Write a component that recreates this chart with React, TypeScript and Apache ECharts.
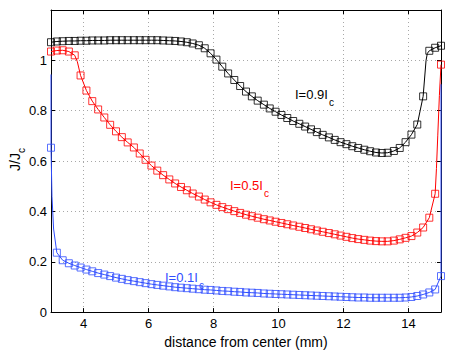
import React, { useEffect, useRef } from "react";
import * as echarts from "echarts";

// distance from center (mm) of the sampled points (markers)
const xGrid = [
  3.0, 3.18, 3.36, 3.55, 3.73, 3.91, 4.09, 4.27, 4.45, 4.64,
  4.82, 5.0, 5.18, 5.36, 5.55, 5.73, 5.91, 6.09, 6.27, 6.45,
  6.64, 6.82, 7.0, 7.18, 7.36, 7.55, 7.73, 7.91, 8.09, 8.27,
  8.45, 8.64, 8.82, 9.0, 9.18, 9.36, 9.55, 9.73, 9.91, 10.09,
  10.27, 10.45, 10.64, 10.82, 11.0, 11.18, 11.36, 11.55, 11.73, 11.91,
  12.09, 12.27, 12.45, 12.64, 12.82, 13.0, 13.18, 13.36, 13.55, 13.73,
  13.91, 14.09, 14.27, 14.45, 14.64, 14.82, 15.0,
];

// J/Jc for I = 0.9 Ic
const jHigh = [
  1.072, 1.075, 1.076, 1.077, 1.077, 1.078, 1.078, 1.079, 1.079, 1.079,
  1.08, 1.08, 1.08, 1.08, 1.08, 1.08, 1.08, 1.08, 1.08, 1.079,
  1.078, 1.077, 1.075, 1.072, 1.067, 1.06, 1.048, 1.028, 1.003, 0.975,
  0.948, 0.922, 0.898, 0.876, 0.857, 0.84, 0.824, 0.809, 0.796, 0.783,
  0.771, 0.759, 0.748, 0.737, 0.726, 0.715, 0.704, 0.694, 0.684, 0.675,
  0.667, 0.659, 0.652, 0.645, 0.639, 0.634, 0.632, 0.633, 0.64, 0.652,
  0.675, 0.705, 0.745, 0.857, 1.038, 1.05, 1.058,
];

// J/Jc for I = 0.5 Ic
const jMid = [
  1.035, 1.039, 1.04, 1.035, 1.02, 0.94, 0.88, 0.838, 0.805, 0.773,
  0.744, 0.718, 0.695, 0.674, 0.654, 0.63, 0.605, 0.582, 0.562, 0.544,
  0.527, 0.511, 0.497, 0.484, 0.471, 0.459, 0.447, 0.436, 0.426, 0.417,
  0.409, 0.401, 0.394, 0.387, 0.381, 0.375, 0.369, 0.364, 0.359, 0.354,
  0.349, 0.344, 0.339, 0.334, 0.329, 0.324, 0.319, 0.314, 0.309, 0.304,
  0.299, 0.294, 0.29, 0.287, 0.284, 0.282, 0.281, 0.281, 0.284, 0.289,
  0.295, 0.302, 0.316, 0.336, 0.375, 0.47, 0.983,
];

// J/Jc for I = 0.1 Ic
const jLow = [
  0.653, 0.236, 0.206, 0.194, 0.185, 0.177, 0.169, 0.162, 0.155, 0.149,
  0.143, 0.137, 0.132, 0.127, 0.123, 0.119, 0.115, 0.111, 0.108, 0.105,
  0.102, 0.099, 0.097, 0.095, 0.093, 0.091, 0.089, 0.088, 0.086, 0.084,
  0.083, 0.081, 0.08, 0.078, 0.077, 0.076, 0.074, 0.073, 0.072, 0.071,
  0.07, 0.069, 0.068, 0.067, 0.066, 0.065, 0.064, 0.063, 0.062, 0.061,
  0.06, 0.059, 0.058, 0.058, 0.057, 0.057, 0.057, 0.057, 0.057, 0.057,
  0.058, 0.06, 0.064, 0.07, 0.078, 0.09, 0.143,
];

// extra points of the fine solid curves (between markers, near the edges)
const highCurveExtra = [[14.54, 1.0], [14.58, 1.028]];
const midCurveExtra = [[3.81, 0.995], [14.86, 0.57], [14.9, 0.7], [14.95, 0.86]];
const lowCurveHead = [[3.0, 0.944], [3.0, 0.653], [3.03, 0.46], [3.08, 0.33]];
const lowCurveTail = [[15.0, 0.905]];

const xTickHidden = [3, 15];

const FONT = '"Liberation Sans", Arial, Helvetica, sans-serif';
const BLACK = "#000000";
const RED = "#ff0000";
const BLUE = "#2f4dff";

function pairs(ys: number[]) {
  return xGrid.map((x, i) => [x, ys[i]]);
}
function merged(ys: number[], extra: number[][]) {
  return [...pairs(ys), ...extra].sort((a, b) => a[0] - b[0]);
}

function lineSeries(data: number[][], color: string) {
  return {
    type: "line",
    data,
    showSymbol: false,
    symbol: "none",
    lineStyle: { color, width: 1 },
    clip: false,
    silent: true,
    z: 2,
  };
}
function markerSeries(ys: number[], color: string) {
  return {
    type: "scatter",
    data: pairs(ys),
    symbol: "rect",
    symbolSize: 7,
    itemStyle: { color: "rgba(0,0,0,0)", borderColor: color, borderWidth: 1 },
    clip: false,
    silent: true,
    z: 3,
  };
}

function subLabel(main: string, x: number, y: number, color: string) {
  return [
    {
      type: "text",
      x,
      y,
      style: {
        text: main,
        fill: color,
        font: `13px ${FONT}`,
        textAlign: "left",
        textVerticalAlign: "middle",
      },
    },
    {
      type: "text",
      x: x + 34,
      y: y + 8,
      style: {
        text: "c",
        fill: color,
        font: `10px ${FONT}`,
        textAlign: "left",
        textVerticalAlign: "middle",
      },
    },
  ];
}

export default function App() {
  const ref = useRef<HTMLDivElement>(null);
  useEffect(() => {
    if (!ref.current) return;
    const chart = echarts.init(ref.current, null, { renderer: "svg" });
    const axisCommon = {
      type: "value",
      axisLine: { show: true, onZero: false, lineStyle: { color: BLACK, width: 1 } },
      axisTick: { show: true, inside: true, length: 4, lineStyle: { color: BLACK } },
    };
    chart.setOption({
      animation: false,
      backgroundColor: "#ffffff",
      grid: { left: 51, top: 10, width: 390, height: 308, containLabel: false },
      xAxis: [
        {
          ...axisCommon,
          position: "bottom",
          min: 3,
          max: 15,
          axisLabel: {
            color: BLACK,
            fontSize: 13,
            fontFamily: FONT,
            margin: 5,
            formatter: (v: number) => (xTickHidden.includes(v) ? "" : String(v)),
          },
          splitLine: { show: true, lineStyle: { color: "#a8a8a8", type: [1, 3], width: 1 } },
          name: "distance from center (mm)",
          nameLocation: "middle",
          nameGap: 17,
          nameTextStyle: { color: BLACK, fontSize: 14, fontFamily: FONT },
        },
        {
          ...axisCommon,
          position: "top",
          min: 3,
          max: 15,
          axisLabel: { show: false },
          splitLine: { show: false },
        },
      ],
      yAxis: [
        {
          ...axisCommon,
          position: "left",
          min: 0,
          max: 1.2,
          interval: 0.2,
          axisLabel: {
            color: BLACK,
            fontSize: 13,
            fontFamily: FONT,
            margin: 4,
            showMaxLabel: false,
            formatter: (v: number) => (v > 1.1 ? "" : String(Math.round(v * 10) / 10)),
          },
          splitLine: { show: true, lineStyle: { color: "#a8a8a8", type: [1, 3], width: 1 } },
        },
        {
          ...axisCommon,
          position: "right",
          min: 0,
          max: 1.2,
          interval: 0.2,
          axisLabel: { show: false },
          splitLine: { show: false },
        },
      ],
      series: [
        lineSeries(merged(jHigh, highCurveExtra), BLACK),
        markerSeries(jHigh, BLACK),
        lineSeries(merged(jMid, midCurveExtra), RED),
        markerSeries(jMid, RED),
        lineSeries([...lowCurveHead, ...pairs(jLow).slice(1), ...lowCurveTail], BLUE),
        markerSeries(jLow, BLUE),
      ],
      graphic: [
        {
          type: "group",
          x: 15,
          y: 171,
          rotation: Math.PI / 2,
          children: [
            {
              type: "text",
              x: 0,
              y: 0,
              style: {
                text: "J/J",
                fill: BLACK,
                font: `14px ${FONT}`,
                textAlign: "left",
                textVerticalAlign: "middle",
              },
            },
            {
              type: "text",
              x: 18,
              y: 6,
              style: {
                text: "c",
                fill: BLACK,
                font: `10px ${FONT}`,
                textAlign: "left",
                textVerticalAlign: "middle",
              },
            },
          ],
        },
        ...subLabel("I=0.9I", 295, 94.5, BLACK),
        ...subLabel("I=0.5I", 230, 185.5, RED),
        ...subLabel("I=0.1I", 165, 277, BLUE),
      ],
    });
    return () => chart.dispose();
  }, []);
  return (
    <div
      ref={ref}
      style={{ position: "fixed", left: 0, top: 0, width: 449, height: 354, background: "#fff" }}
    />
  );
}
